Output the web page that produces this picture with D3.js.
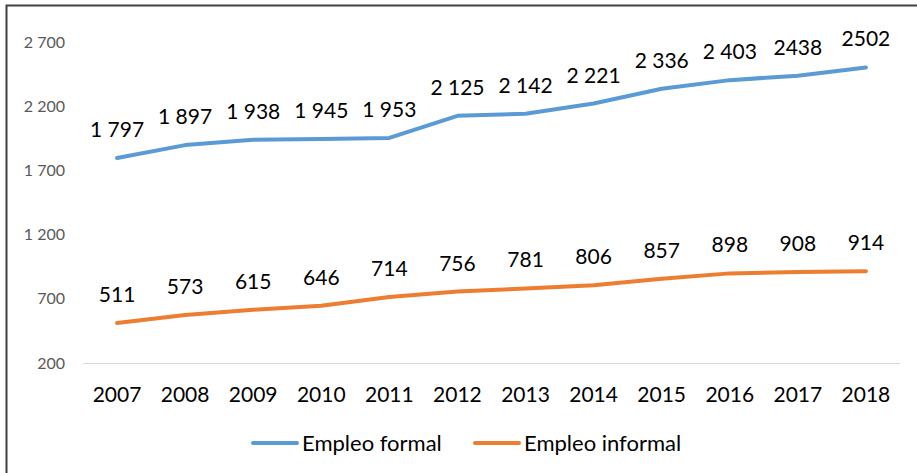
<!DOCTYPE html>
<html>
  <head>
    <meta charset="utf-8">
    <title>Empleo formal e informal</title>
    <script type="text/javascript" src="https://cdn.jsdelivr.net/npm/d3@7"></script>
    <style>
    body {
      margin: 0;
      background: #fff;
    }
    text {
      font-family: Lato, "Open Sans", sans-serif;
    }
    .tick-y {
      font-size: 16px;
      fill: #595959;
    }
    .year {
      font-size: 21px;
      fill: #000;
    }
    .val {
      font-size: 21px;
      fill: #000;
    }
    .legend {
      font-size: 22px;
      fill: #000;
    }
    .line {
      fill: none;
      stroke-width: 4px;
      stroke-linecap: round;
      stroke-linejoin: round;
    }
    </style>
  </head>
  <body>
    <div id="chart"></div>
    <script type="text/javascript">

      var years = ['2007','2008','2009','2010','2011','2012','2013','2014','2015','2016','2017','2018'];
      var formal = [1797, 1897, 1938, 1945, 1953, 2125, 2142, 2221, 2336, 2403, 2438, 2502];
      var informal = [511, 573, 615, 646, 714, 756, 781, 806, 857, 898, 908, 914];
      var formalLabels = ['1 797','1 897','1 938','1 945','1 953','2 125','2 142','2 221','2 336','2 403','2438','2502'];
      var informalLabels = ['511','573','615','646','714','756','781','806','857','898','908','914'];
      var yTicks = [200, 700, 1200, 1700, 2200, 2700];
      var yTickLabels = ['200','700','1 200','1 700','2 200','2 700'];
      var seriesNames = ['Empleo formal', 'Empleo informal'];

      var width = 917, height = 473;

      var svg = d3.select('#chart').append('svg')
        .attr('width', width)
        .attr('height', height);

      // frame (only left and top edges show in the picture)
      svg.append('rect')
        .attr('x', 6.5)
        .attr('y', 5.5)
        .attr('width', 1000)
        .attr('height', 1000)
        .attr('fill', 'none')
        .attr('stroke', '#404040')
        .attr('stroke-width', 2);

      var x = d3.scaleBand().domain(years).range([83, 900]);
      var y = d3.scaleLinear().domain([200, 2700]).range([363, 42]);
      var cx = function(d) { return x(d) + x.bandwidth() / 2; };

      // y labels
      svg.selectAll('.tick-y')
        .data(yTicks)
        .enter()
        .append('text')
        .attr('class', 'tick-y')
        .attr('x', 65)
        .attr('y', function(d) { return y(d); })
        .attr('dy', '0.35em')
        .attr('text-anchor', 'end')
        .text(function(d, i) { return yTickLabels[i]; });

      // baseline
      svg.append('line')
        .attr('x1', x.range()[0])
        .attr('x2', x.range()[1])
        .attr('y1', y(200) + 0.5)
        .attr('y2', y(200) + 0.5)
        .attr('stroke', '#d9d9d9')
        .attr('stroke-width', 1);

      // year labels
      svg.selectAll('.year')
        .data(years)
        .enter()
        .append('text')
        .attr('class', 'year')
        .attr('x', cx)
        .attr('y', 402)
        .attr('text-anchor', 'middle')
        .text(function(d) { return d; });

      var line = d3.line()
        .x(function(d, i) { return cx(years[i]); })
        .y(function(d) { return y(d); });

      var series = [
        {name: seriesNames[0], values: formal, labels: formalLabels, color: '#5b9bd5'},
        {name: seriesNames[1], values: informal, labels: informalLabels, color: '#ed7d31'}
      ];

      series.forEach(function(s) {
        svg.append('path')
          .datum(s.values)
          .attr('class', 'line')
          .style('stroke', s.color)
          .attr('d', line);

        svg.selectAll(null)
          .data(s.values)
          .enter()
          .append('text')
          .attr('class', 'val')
          .attr('x', function(d, i) { return cx(years[i]); })
          .attr('y', function(d) { return y(d) - 21; })
          .attr('text-anchor', 'middle')
          .text(function(d, i) { return s.labels[i]; });
      });

      // legend
      var legendX = [253, 475];
      var legend = svg.selectAll('.legend-item')
        .data(series)
        .enter()
        .append('g')
        .attr('class', 'legend-item')
        .attr('transform', function(d, i) { return 'translate(' + legendX[i] + ',443)'; });
      legend.append('line')
        .attr('x1', 0)
        .attr('x2', 44)
        .attr('stroke', function(d) { return d.color; })
        .attr('stroke-width', 4)
        .attr('stroke-linecap', 'round');
      legend.append('text')
        .attr('class', 'legend')
        .attr('x', 49)
        .attr('dy', '0.35em')
        .text(function(d) { return d.name; });
    </script>
  </body>
</html>
